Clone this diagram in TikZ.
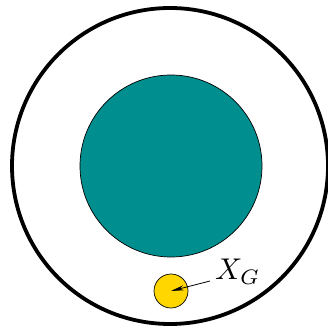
\documentclass[tikz,border=0pt]{standalone}
\usepackage{graphicx}
\usetikzlibrary{arrows.meta}
\definecolor{tealfill}{RGB}{0,142,142}
\definecolor{goldfill}{RGB}{255,214,0}
\begin{document}
\begin{tikzpicture}[x=1pt,y=-1pt,
  outerring/.style={circle,draw=black,line width=3.8pt,minimum size=316pt,inner sep=0pt},
  core/.style={circle,draw=black,fill=tealfill,line width=0.7pt,minimum size=182pt,inner sep=0pt},
  mass/.style={circle,draw=black,fill=goldfill,line width=0.7pt,minimum size=34pt,inner sep=0pt},
  pointer/.style={-{Stealth[length=13pt,width=5pt]},line width=0.8pt}]
\useasboundingbox (0,0) rectangle (327,331);
\node[outerring] (ring) at (170,166) {};
\node[core] (core) at (171,166) {};
\node[mass] (g) at (171,291) {};
\node[anchor=base west,inner sep=0pt] (lbl) at (215,279.5) {\scalebox{3.0}{$X_G$}};
\coordinate (tail) at (210,281);
\draw[pointer] (tail) -- (g.center);
\end{tikzpicture}
\end{document}
